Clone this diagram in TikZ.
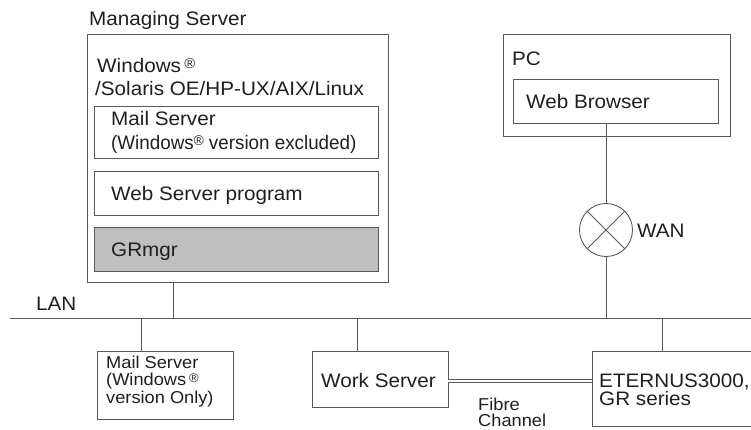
\documentclass[tikz,border=0pt]{standalone}
\usepackage{fontspec}
\setmainfont[FakeStretch=1.06]{Liberation Sans}
\usepackage{graphicx}
\newcommand\regmk{\raisebox{0.18em}{\scalebox{0.72}{®}}}
\begin{document}
\begin{tikzpicture}[x=1pt,y=-1pt,
  box/.style={draw=black!65, line width=0.9pt, anchor=north west, inner sep=0pt, outer sep=0pt},
  lbl/.style={anchor=base west, inner sep=0pt, font=\fontsize{19.5}{22}\selectfont, text=black!88},
  sml/.style={anchor=base west, inner sep=0pt, font=\fontsize{17.2}{18}\selectfont, text=black!88},
  wire/.style={draw=black!65, line width=0.9pt}]
\clip (0,0) rectangle (751,429);
% Managing server
\node[lbl] (msl) at (89,25) {Managing Server};
\node[box, minimum width=301pt, minimum height=248pt] (ms) at (87,34) {};
\node[lbl] (os1) at (97,72) {Windows\,\regmk};
\node[lbl] (os2) at (95,95) {/Solaris OE/HP-UX/AIX/Linux};
\node[box, minimum width=284pt, minimum height=52pt] (mail1) at (94,106) {};
\node[lbl] (mail1a) at (111,125) {Mail Server};
\node[lbl] (mail1b) at (111,149.5) {\scalebox{0.91}[1]{(Windows\regmk\ version excluded)}};
\node[box, minimum width=284pt, minimum height=44pt] (web) at (94,171) {};
\node[lbl] (webl) at (111,200.5) {Web Server program};
\node[box, fill=black!25, minimum width=284pt, minimum height=44pt] (gr) at (94,227) {};
\node[lbl] (grl) at (111,256) {GRmgr};
% PC
\node[box, minimum width=227pt, minimum height=102pt] (pc) at (503,34) {};
\node[lbl] (pcl) at (512,65) {PC};
\node[box, minimum width=205pt, minimum height=44pt] (wb) at (513,79) {};
\node[lbl] (wbl) at (526,108) {Web Browser};
% WAN
\node[draw=black!65, line width=0.9pt, circle, minimum size=53pt, inner sep=0pt] (wan) at (606,230) {};
\draw[wire] (wan.north west) -- (wan.south east);
\draw[wire] (wan.north east) -- (wan.south west);
\node[lbl] (wanl) at (637,237) {WAN};
% LAN
\coordinate (lanL) at (10,318);
\coordinate (lanR) at (751,318);
\draw[wire] (lanL) -- (lanR);
\node[lbl] (lanl) at (36,310) {LAN};
\coordinate (t1) at (173,318);
\coordinate (t2) at (141,318);
\coordinate (t3) at (357,318);
\coordinate (t4) at (662,318);
\coordinate (t5) at (606,318);
% lower boxes
\node[box, minimum width=136pt, minimum height=68pt] (mail2) at (97,351) {};
\node[sml, align=left, font=\fontsize{17.2}{17.25}\selectfont] (mail2t) at (106,403) {Mail Server\\(Windows\,\regmk\\version Only)};
\node[box, minimum width=136pt, minimum height=56pt] (ws) at (312,351) {};
\node[lbl] (wsl) at (321,387) {Work Server};
\node[box, minimum width=175pt, minimum height=75pt] (et) at (592,351) {};
\node[lbl, align=left, font=\fontsize{19.5}{18.5}\selectfont] (et1) at (599,405.5) {ETERNUS3000,\\GR series};
\node[sml, align=left, font=\fontsize{17.2}{16}\selectfont] (fc) at (478,426.5) {Fibre\\Channel};
% connectors
\draw[wire] (t1 |- ms.south) -- (t1);
\draw[wire] (t2) -- (t2 |- mail2.north);
\draw[wire] (t3) -- (t3 |- ws.north);
\draw[wire] (t4) -- (t4 |- et.north);
\draw[wire] (wan.north |- wb.south) -- (wan.north);
\draw[wire] (wan.south) -- (t5);
\coordinate (fcy) at (0,381);
\draw[draw=black!65, line width=0.8pt, double=white, double distance=2pt] (ws.east |- fcy) -- (et.west |- fcy);
\end{tikzpicture}
\end{document}
